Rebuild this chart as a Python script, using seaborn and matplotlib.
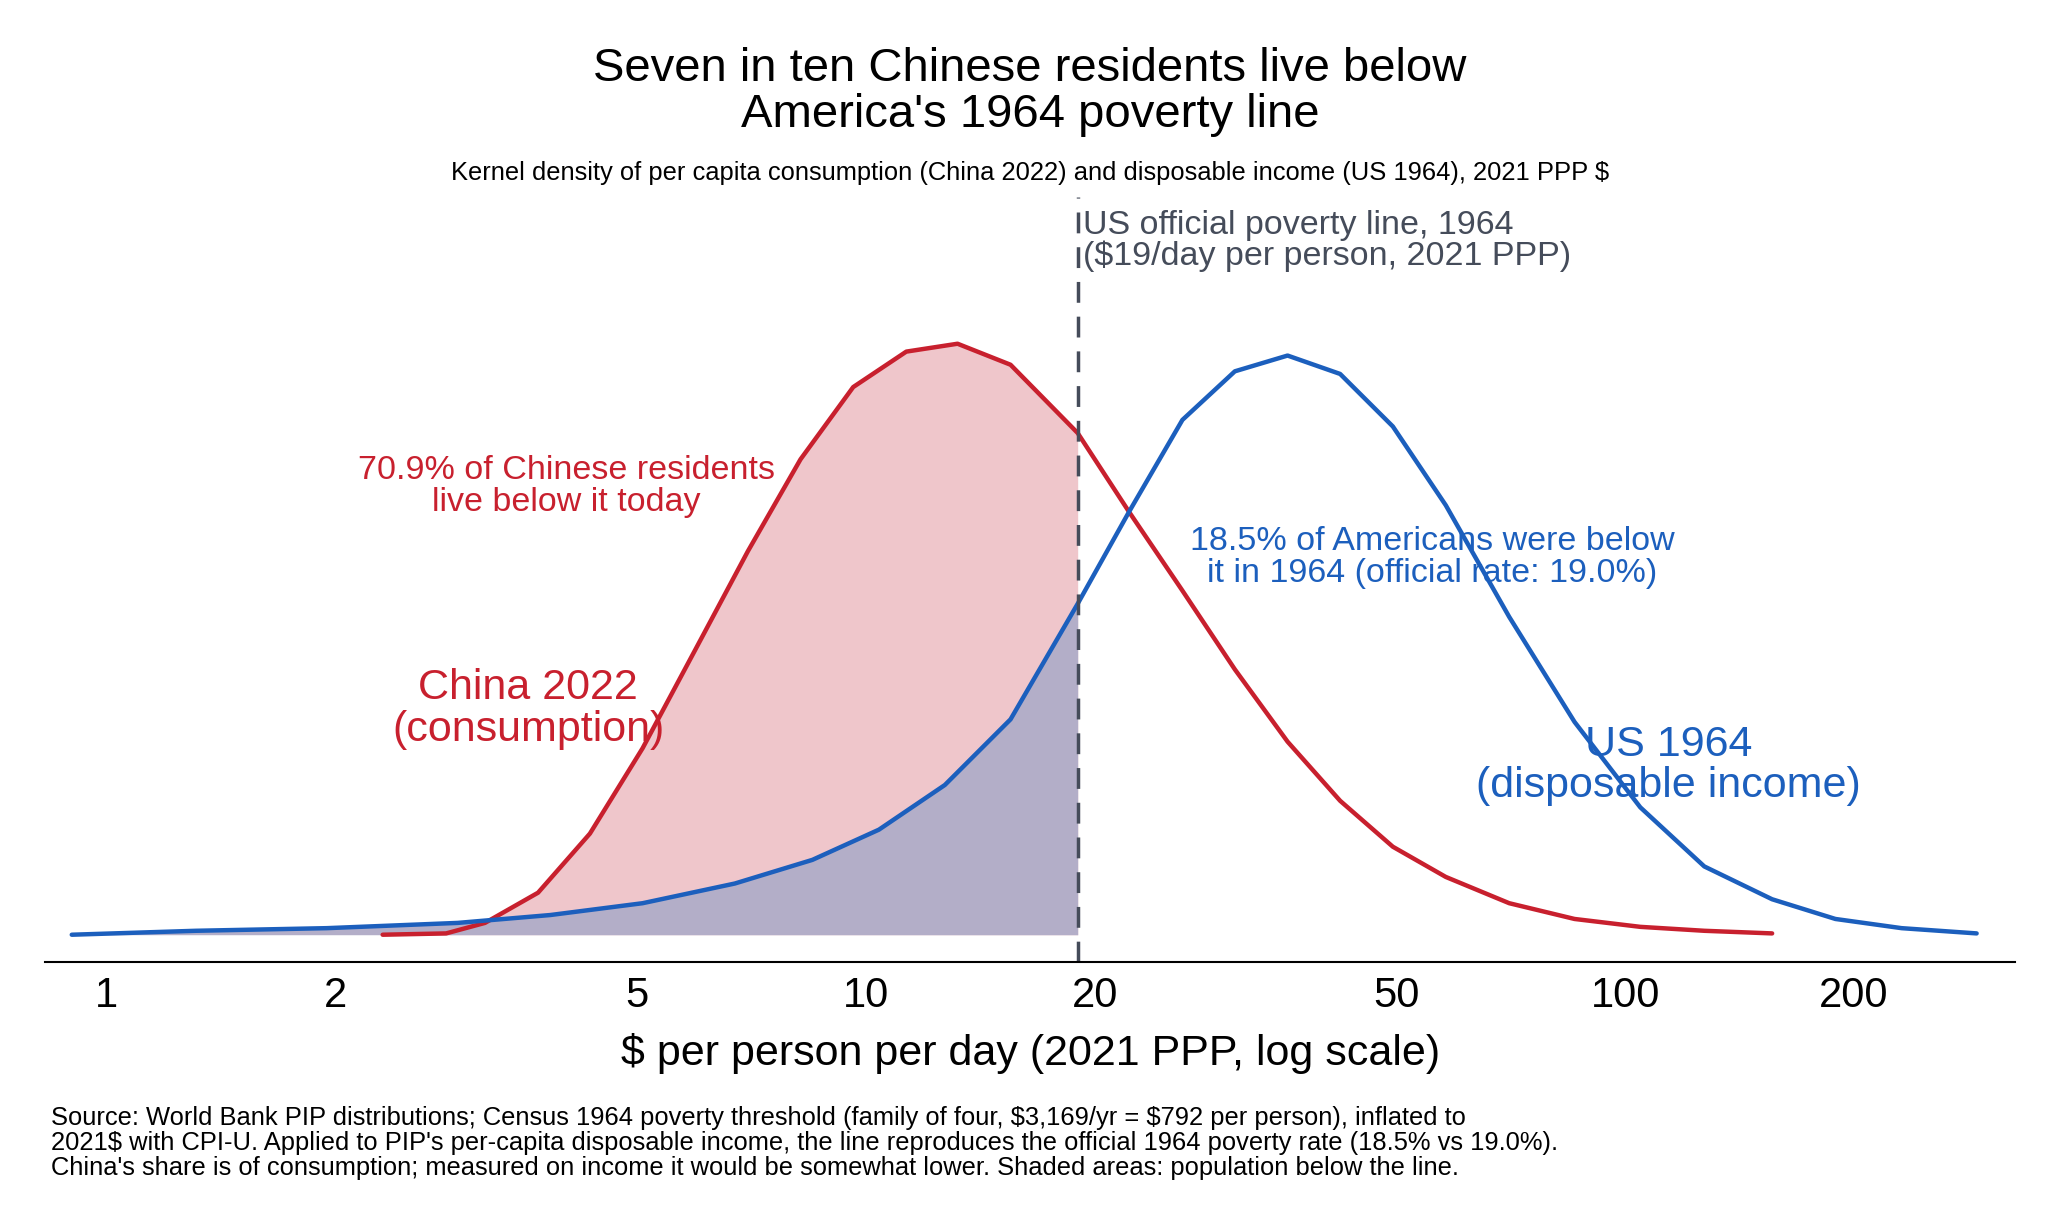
import numpy as np
import pandas as pd
import matplotlib
matplotlib.use("Agg")
import matplotlib.pyplot as plt
import seaborn as sns

# densities (arbitrary units, China peak ~450)
china_x = [2.31, 2.80, 3.15, 3.70, 4.33, 5.08, 5.96, 6.99, 8.20, 9.62, 11.3, 13.2, 15.5, 19.0,
           22.2, 26.1, 30.6, 35.9, 42.1, 49.4, 58.0, 70.3, 85.7, 104.6, 127, 156]
china_y = [0, 1, 9, 32, 77, 142, 217, 292, 362, 417, 444, 450, 434, 382,
           322, 262, 202, 147, 102, 67, 44, 24, 12, 6, 3, 1]
us_x = [0.90, 1.31, 1.95, 2.90, 3.84, 5.08, 6.72, 8.5, 10.4, 12.7, 15.5, 19.0, 22.2, 26.1,
        30.6, 35.9, 42.1, 49.4, 58.0, 70.3, 85.7, 104.6, 127, 156, 189, 231, 290]
us_y = [0, 3, 5, 9, 15, 24, 39, 57, 80, 114, 164, 252, 322, 392,
        429, 441, 427, 387, 327, 242, 162, 97, 52, 27, 12, 5, 1]
poverty_line = 19
ticks = [1, 2, 5, 10, 20, 50, 100, 200]

RED = "#c8202e"
BLUE = "#1c5fbd"
GREY = "#454c5a"

sns.set_style("white")
plt.rcParams["font.family"] = ["Liberation Sans", "DejaVu Sans"]
plt.rcParams["text.color"] = "black"
plt.rcParams["axes.labelcolor"] = "black"
plt.rcParams["xtick.color"] = "black"

china = pd.DataFrame({"x": china_x, "y": china_y})
us = pd.DataFrame({"x": us_x, "y": us_y})

fig = plt.figure(figsize=(20.48, 12.29), dpi=100)
ax = fig.add_axes([0.022, 0.217, 0.962, 0.623])

cb = china[china.x <= poverty_line]
ub = us[us.x <= poverty_line]
ax.fill_between(cb.x, 0, cb.y, color="#efc6cb", lw=0)
ax.fill_between(ub.x, 0, ub.y, color="#b3aec8", lw=0)

sns.lineplot(data=china, x="x", y="y", color=RED, lw=3.2, ax=ax)
sns.lineplot(data=us, x="x", y="y", color=BLUE, lw=3.2, ax=ax)
ax.axvline(poverty_line, color=GREY, lw=2.5, ls=(0, (6, 4)))

ax.set_xscale("log")
ax.set_xlim(0.83, 326)
ax.set_ylim(-21, 562)
ax.set_xticks(ticks)
ax.set_xticklabels([str(t) for t in ticks])
ax.minorticks_off()
ax.tick_params(axis="x", labelsize=30, length=0, pad=10, colors="black")
ax.set_yticks([])
ax.set_ylabel("")
ax.set_xlabel("$ per person per day (2021 PPP, log scale)", fontsize=31, labelpad=12)
for s in ["top", "left", "right"]:
    ax.spines[s].set_visible(False)
ax.spines["bottom"].set_linewidth(1.5)
ax.spines["bottom"].set_color("black")

ax.text(19.3, 552, "US official poverty line, 1964\n($19/day per person, 2021 PPP)",
        fontsize=24.5, color=GREY, va="top", linespacing=1.0)
ax.text(4.03, 341, "70.9% of Chinese residents\nlive below it today", fontsize=24.5,
        color=RED, ha="center", va="center", linespacing=1.05)
ax.text(3.59, 172, "China 2022\n(consumption)", fontsize=31, color=RED,
        ha="center", va="center", linespacing=1.05)
ax.text(55.7, 287, "18.5% of Americans were below\nit in 1964 (official rate: 19.0%)",
        fontsize=24.5, color=BLUE, ha="center", va="center", linespacing=1.05)
ax.text(114, 129, "US 1964\n(disposable income)", fontsize=31, color=BLUE,
        ha="center", va="center", linespacing=1.05)

fig.text(0.503, 0.925, "Seven in ten Chinese residents live below\nAmerica's 1964 poverty line",
         fontsize=34, ha="center", va="center", linespacing=1.05)
fig.text(0.503, 0.859, "Kernel density of per capita consumption (China 2022) and disposable income (US 1964), 2021 PPP $",
         fontsize=18.4, ha="center", va="center")
fig.text(0.025, 0.04,
         "Source: World Bank PIP distributions; Census 1964 poverty threshold (family of four, \\$3,169/yr = \\$792 per person), inflated to\n"
         "2021\\$ with CPI-U. Applied to PIP's per-capita disposable income, the line reproduces the official 1964 poverty rate (18.5% vs 19.0%).\n"
         "China's share is of consumption; measured on income it would be somewhat lower. Shaded areas: population below the line.",
         fontsize=18.4, ha="left", va="bottom", linespacing=1.05)

fig.savefig("out.png", dpi=100)
